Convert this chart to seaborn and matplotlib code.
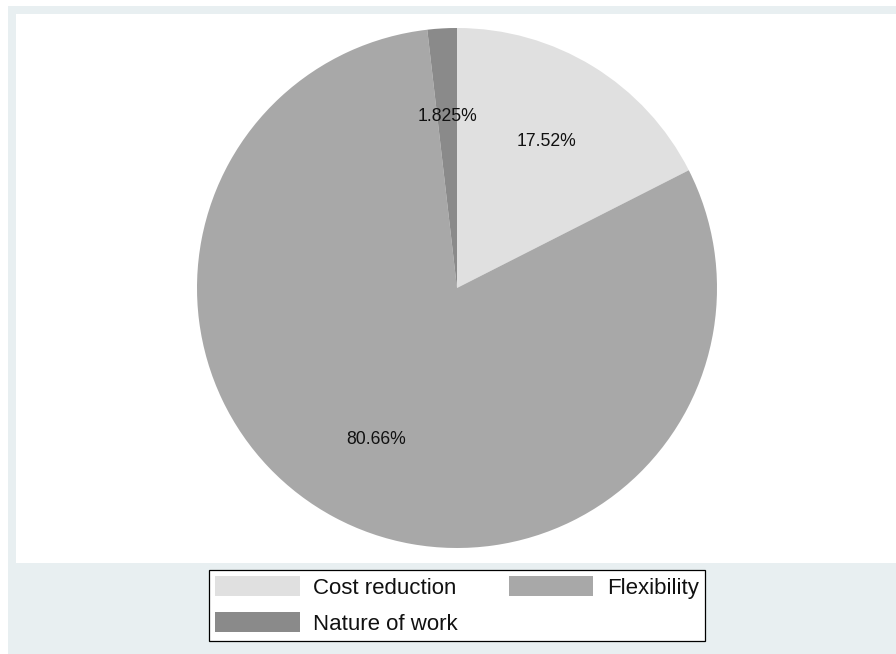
import matplotlib
matplotlib.use("Agg")
import matplotlib.pyplot as plt
from matplotlib.patches import Rectangle, Patch
import seaborn as sns

# Reasons for remote work (share of respondents, %)
categories = ["Cost reduction", "Flexibility", "Nature of work"]
shares = [17.52, 80.66, 1.825]
labels = ["17.52%", "80.66%", "1.825%"]
colors = ["#e0e0e0", "#a8a8a8", "#8a8a8a"]

sns.set_theme(style="white")
plt.rcParams["font.family"] = ["Liberation Sans", "DejaVu Sans"]

W, H = 896, 654
fig = plt.figure(figsize=(W / 100, H / 100), dpi=100, facecolor="white")

# outer graph region and inner plot region
fig.patches.append(Rectangle((8 / W, 0), 1 - 8 / W, 1 - 6 / H, transform=fig.transFigure,
                             facecolor="#e8eff1", edgecolor="none", zorder=-10))
fig.patches.append(Rectangle((16 / W, (H - 563) / H), 1 - 16 / W, (563 - 14) / H,
                             transform=fig.transFigure, facecolor="white",
                             edgecolor="none", zorder=-9))

cx, cy, r = 457, 288, 260
ax = fig.add_axes([(cx - r) / W, (H - cy - r) / H, 2 * r / W, 2 * r / H])
ax.set_facecolor("none")

wedges, texts = ax.pie(shares, colors=colors, startangle=90, counterclock=False,
                       labels=labels, labeldistance=0.66,
                       wedgeprops=dict(linewidth=0),
                       textprops=dict(fontsize=12.7, color="#111111"))
for t in texts:
    t.set_ha("center")
    t.set_va("center")
ax.set_xlim(-1, 1)
ax.set_ylim(-1, 1)
ax.set_aspect("equal")
ax.axis("off")

# legend: two columns, filled row by row
order = [0, 2, 1]
handles = [Patch(facecolor=colors[i], edgecolor="none", label=categories[i]) for i in order]
leg = fig.legend(handles=handles, loc="center", bbox_to_anchor=(457 / W, (H - 605.5) / H),
                 ncol=2, fontsize=16, frameon=True, fancybox=False, shadow=False,
                 framealpha=1, handlelength=3.8, handleheight=1.0, handletextpad=0.6,
                 columnspacing=2.3, labelspacing=0.6, borderpad=0.28, borderaxespad=0)
frame = leg.get_frame()
frame.set_edgecolor("black")
frame.set_linewidth(0.9)
frame.set_facecolor("white")
for t in leg.get_texts():
    t.set_color("#111111")

fig.savefig("out.png", dpi=100, facecolor="white")
